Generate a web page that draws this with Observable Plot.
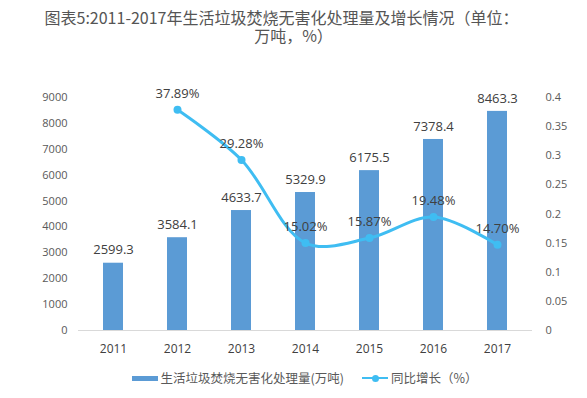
<!DOCTYPE html>
<html><head><meta charset="utf-8">
<script src="https://cdn.jsdelivr.net/npm/d3@7"></script>
<script src="https://cdn.jsdelivr.net/npm/@observablehq/plot@0.6"></script>
<style>
body{margin:0;background:#fff;width:587px;height:398px;overflow:hidden;font-family:"Noto Sans CJK SC",sans-serif;}
#title{height:50px;box-sizing:border-box;padding-top:9px;text-align:center;font-size:16px;line-height:17.5px;color:#555;font-weight:400;}
#title .l1{position:relative;left:-12px;white-space:nowrap;}
#chart{height:320px;}
#legend{height:28px;display:flex;justify-content:center;align-items:flex-start;font-size:12.5px;line-height:16px;color:#595959;padding-left:22px;}
.item{display:flex;align-items:center;margin:0 9px;}
.sw-bar{display:inline-block;width:26px;height:5px;background:#5B9BD5;margin-right:3px;}
.sw-line{position:relative;display:inline-block;width:26px;height:2px;background:#3FBDF2;margin-right:3px;}
.sw-line::after{content:"";position:absolute;left:10px;top:-2.5px;width:7px;height:7px;border-radius:50%;background:#3FBDF2;}
</style></head>
<body>
<div id="title"><div class="l1">图表5:2011-2017年生活垃圾焚烧无害化处理量及增长情况（单位：</div><div>万吨，%）</div></div>
<div id="chart"></div>
<div id="legend"></div>
<script>
const years = ["2011", "2012", "2013", "2014", "2015", "2016", "2017"];
const volume = [2599.3, 3584.1, 4633.7, 5329.9, 6175.5, 7378.4, 8463.3];
const growthYears = ["2012", "2013", "2014", "2015", "2016", "2017"];
const growth = [0.3789, 0.2928, 0.1502, 0.1587, 0.1948, 0.1470];
const leftTicks = [0, 1000, 2000, 3000, 4000, 5000, 6000, 7000, 8000, 9000];
const rightTicks = [0, 0.05, 0.1, 0.15, 0.2, 0.25, 0.3, 0.35, 0.4];
const seriesNames = ["生活垃圾焚烧无害化处理量(万吨)", "同比增长（%）"];

const leftMax = 9000, rightMax = 0.4;
const k = leftMax / rightMax;
const barColor = "#5B9BD5", lineColor = "#3FBDF2";

const bars = years.map((y, i) => ({year: y, value: volume[i]}));
const pts = growthYears.map((y, i) => ({year: y, g: growth[i], v: growth[i] * k}));

const plot = Plot.plot({
  width: 587,
  height: 320,
  marginTop: 47,
  marginBottom: 40,
  marginLeft: 78,
  marginRight: 55,
  style: {fontFamily: "'Open Sans', sans-serif", fontSize: "11px", color: "#595959", background: "#fff"},
  x: {domain: years, paddingInner: 0.69, paddingOuter: 0.345, label: null},
  y: {domain: [0, leftMax], label: null},
  marks: [
    Plot.barY(bars, {x: "year", y: "value", fill: barColor}),
    Plot.ruleY([0], {stroke: "#d9d9d9", strokeWidth: 1}),
    Plot.axisY(leftTicks, {anchor: "left", tickSize: 0, tickPadding: 11, tickFormat: d => String(d), label: null, fontSize: 11}),
    Plot.axisY(rightTicks.map(v => v * k), {anchor: "right", tickSize: 0, tickPadding: 13, tickFormat: d => String(+(d / k).toFixed(2)), label: null, fontSize: 11}),
    Plot.axisX({tickSize: 0, tickPadding: 14, label: null, fontSize: 12, fill: "#404040"}),
    Plot.line(pts, {x: "year", y: "v", stroke: lineColor, strokeWidth: 3, curve: "catmull-rom"}),
    Plot.dot(pts, {x: "year", y: "v", fill: lineColor, r: 4}),
    Plot.text(bars, {x: "year", y: "value", text: d => d.value.toFixed(1), dy: -13, fontSize: 13, fill: "#404040"}),
    Plot.text(pts, {x: "year", y: "v", text: d => (d.g * 100).toFixed(2) + "%", dy: -16, fontSize: 13, fill: "#404040"})
  ]
});
document.getElementById("chart").appendChild(plot);

const legend = document.getElementById("legend");
legend.innerHTML =
  `<span class="item"><span class="sw-bar"></span>${seriesNames[0]}</span>` +
  `<span class="item"><span class="sw-line"></span>${seriesNames[1]}</span>`;
</script>
</body></html>
